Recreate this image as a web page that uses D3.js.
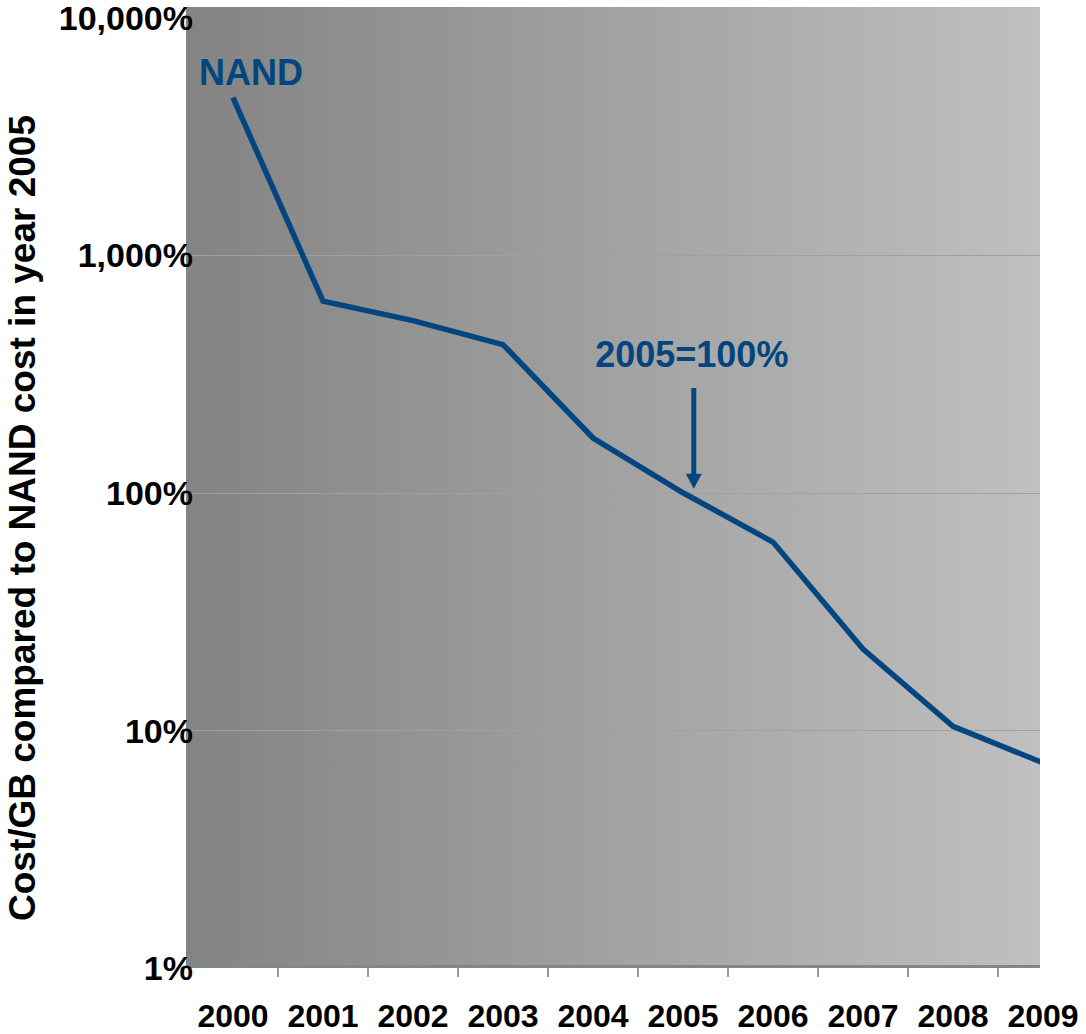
<!DOCTYPE html>
<html>
<head>
<meta charset="utf-8">
<script src="https://cdn.jsdelivr.net/npm/d3@7"></script>
<style>
  html, body { margin: 0; padding: 0; background: #ffffff; }
  svg { display: block; }
  text { font-family: "Liberation Sans", Arial, sans-serif; font-weight: bold; }
</style>
</head>
<body>
<svg id="chart" width="1086" height="1034"></svg>
<script>
// ---- data ----
const years = ["2000", "2001", "2002", "2003", "2004", "2005", "2006", "2007", "2008", "2009"];
const nandCost = [4600, 640, 530, 420, 170, 100, 62, 22, 10.4, 7.3];
const yTickValues = [1, 10, 100, 1000, 10000];
const yTickLabels = ["1%", "10%", "100%", "1,000%", "10,000%"];
const seriesLabel = "NAND";
const refLabel = "2005=100%";
const refYear = "2005";
const refValue = 100;
const yTitle = "Cost/GB compared to NAND cost in year 2005";

// ---- layout ----
const W = 1086, H = 1034;
const plotLeft = 186, plotRight = 1040, plotTop = 7, plotBottom = 968;
const blue = "#03457f";

const svg = d3.select("#chart");

const x = d3.scaleBand().domain(years).range([188, 1088]).padding(0);
const y = d3.scaleLog().domain([1, 10000]).range([plotBottom, 17.5]);

// gradient background
const defs = svg.append("defs");
const grad = defs.append("linearGradient").attr("id", "bg").attr("x1", "0").attr("x2", "1").attr("y1", "0").attr("y2", "0");
grad.append("stop").attr("offset", "0%").attr("stop-color", "#838383");
grad.append("stop").attr("offset", "100%").attr("stop-color", "#c0c0c0");
defs.append("clipPath").attr("id", "clip").append("rect")
  .attr("x", plotLeft).attr("y", plotTop).attr("width", plotRight - plotLeft).attr("height", plotBottom - plotTop);

svg.append("rect")
  .attr("x", plotLeft).attr("y", plotTop)
  .attr("width", plotRight - plotLeft).attr("height", plotBottom - plotTop)
  .attr("fill", "url(#bg)");

// gridlines
svg.append("g").selectAll("line")
  .data(yTickValues.filter(v => v > 1 && v < 10000))
  .join("line")
  .attr("x1", plotLeft).attr("x2", plotRight)
  .attr("y1", d => Math.round(y(d)) + 0.5).attr("y2", d => Math.round(y(d)) + 0.5)
  .attr("stroke", "#a0a0a0").attr("stroke-width", 1);

// x axis line and ticks
svg.append("line")
  .attr("x1", plotLeft).attr("x2", plotRight)
  .attr("y1", plotBottom - 1.5).attr("y2", plotBottom - 1.5)
  .attr("stroke", "#858585").attr("stroke-width", 3);

svg.append("g").selectAll("line")
  .data(years.slice(1))
  .join("line")
  .attr("x1", d => x(d)).attr("x2", d => x(d))
  .attr("y1", plotBottom).attr("y2", plotBottom + 9)
  .attr("stroke", "#999999").attr("stroke-width", 2);

// x labels
svg.append("g").selectAll("text")
  .data(years)
  .join("text")
  .attr("x", d => x(d) + x.bandwidth() / 2)
  .attr("y", 1027)
  .attr("text-anchor", "middle")
  .attr("font-size", "32px")
  .attr("fill", "#000")
  .text(d => d);

// y labels
svg.append("g").selectAll("text")
  .data(yTickValues)
  .join("text")
  .attr("x", 193)
  .attr("y", d => y(d))
  .attr("dy", "0.36em")
  .attr("text-anchor", "end")
  .attr("font-size", "34px")
  .attr("fill", "#000")
  .text((d, i) => yTickLabels[i]);

// y title
svg.append("text")
  .attr("transform", `translate(35,518) rotate(-90)`)
  .attr("text-anchor", "middle")
  .attr("font-size", "37px")
  .attr("fill", "#000")
  .text(yTitle);

// series line
const line = d3.line()
  .x((d, i) => x(years[i]) + x.bandwidth() / 2)
  .y(d => y(d));

svg.append("path")
  .datum(nandCost)
  .attr("clip-path", "url(#clip)")
  .attr("d", line)
  .attr("fill", "none")
  .attr("stroke", blue)
  .attr("stroke-width", 5.5)
  .attr("stroke-linejoin", "miter");

// NAND label
svg.append("text")
  .attr("x", 199)
  .attr("y", 85)
  .attr("font-size", "36px")
  .attr("fill", blue)
  .text(seriesLabel);

// 2005=100% annotation
const ax = x(refYear) + x.bandwidth() * 0.62;
const tipY = y(refValue) - 4;
svg.append("text")
  .attr("x", ax - 2)
  .attr("y", 367)
  .attr("text-anchor", "middle")
  .attr("font-size", "36px")
  .attr("fill", blue)
  .text(refLabel);

svg.append("line")
  .attr("x1", ax).attr("x2", ax)
  .attr("y1", 388).attr("y2", tipY - 12)
  .attr("stroke", blue).attr("stroke-width", 5);

svg.append("path")
  .attr("d", `M${ax - 8},${tipY - 15} L${ax + 8},${tipY - 15} L${ax},${tipY} Z`)
  .attr("fill", blue);
</script>
</body>
</html>
